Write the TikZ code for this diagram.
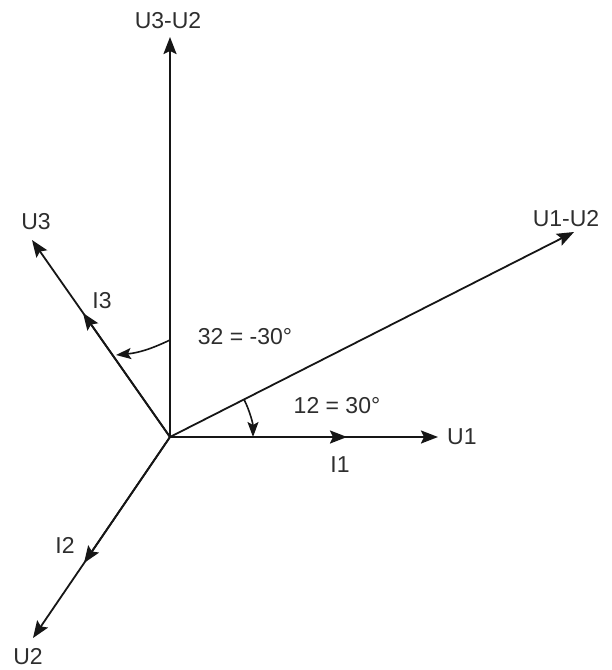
\documentclass[tikz,border=0pt]{standalone}
\usepackage{fontspec}
\setmainfont{Liberation Sans}
\usetikzlibrary{arrows.meta}
\definecolor{ink}{HTML}{161616}
\definecolor{txt}{HTML}{2E2E2E}
\tikzset{
  vec/.style={draw=ink, line width=2.1pt, -{Stealth[length=17pt,width=13pt,inset=3pt]}},
  thinvec/.style={draw=ink, line width=1.8pt, -{Stealth[length=17pt,width=13pt,inset=3pt]}},
  anglearc/.style={draw=ink, line width=1.6pt, -{Stealth[length=15pt,width=11pt,inset=3pt]}},
  lbl/.style={text=txt, font=\fontsize{23}{26}\selectfont, inner sep=0pt}
}
\begin{document}
\begin{tikzpicture}[x=1pt,y=-1pt]
\useasboundingbox (0,0) rectangle (612,670);
\fill[white] (0,0) rectangle (612,670);
% origin and vector tips
\coordinate (O) at (170,437);
\coordinate (U1e) at (438,437);
\coordinate (I1e) at (347,437);
\coordinate (U32e) at (170,37);
\coordinate (U12e) at (574,232);
\coordinate (U3e) at (32,240);
\coordinate (I3e) at (83,313);
\coordinate (U2e) at (33,638);
\coordinate (I2e) at (84,563);
\coordinate (A32s) at (170,340);
\coordinate (A32e) at (116,355);
% vectors
\draw[vec] (O) -- (U1e);
\draw[vec] (O) -- (I1e);
\draw[vec] (O) -- (U32e);
\draw[thinvec] (O) -- (U12e);
\draw[thinvec] (O) -- (U3e);
\draw[thinvec] (O) -- (I3e);
\draw[thinvec] (O) -- (U2e);
\draw[thinvec] (O) -- (I2e);
% angle arcs
\draw[anglearc] (O) ++(-27:83) arc[start angle=-27, end angle=0, radius=83];
\draw[anglearc] (A32s) to[bend left=10] (A32e);
% labels
\node[lbl] (lU32) at (168,21) {U3-U2};
\node[lbl] (lU12) at (566,219) {U1-U2};
\node[lbl, anchor=west] (lU1) at (447,437) {U1};
\node[lbl] (lI1) at (340,465) {I1};
\node[lbl] (l12) at (337,406) {12 = 30°};
\node[lbl] (l32) at (245,337) {32 = -30°};
\node[lbl] (lU3) at (36,222) {U3};
\node[lbl] (lI3) at (102,301) {I3};
\node[lbl] (lI2) at (65,545) {I2};
\node[lbl] (lU2) at (28,657) {U2};
\end{tikzpicture}
\end{document}
